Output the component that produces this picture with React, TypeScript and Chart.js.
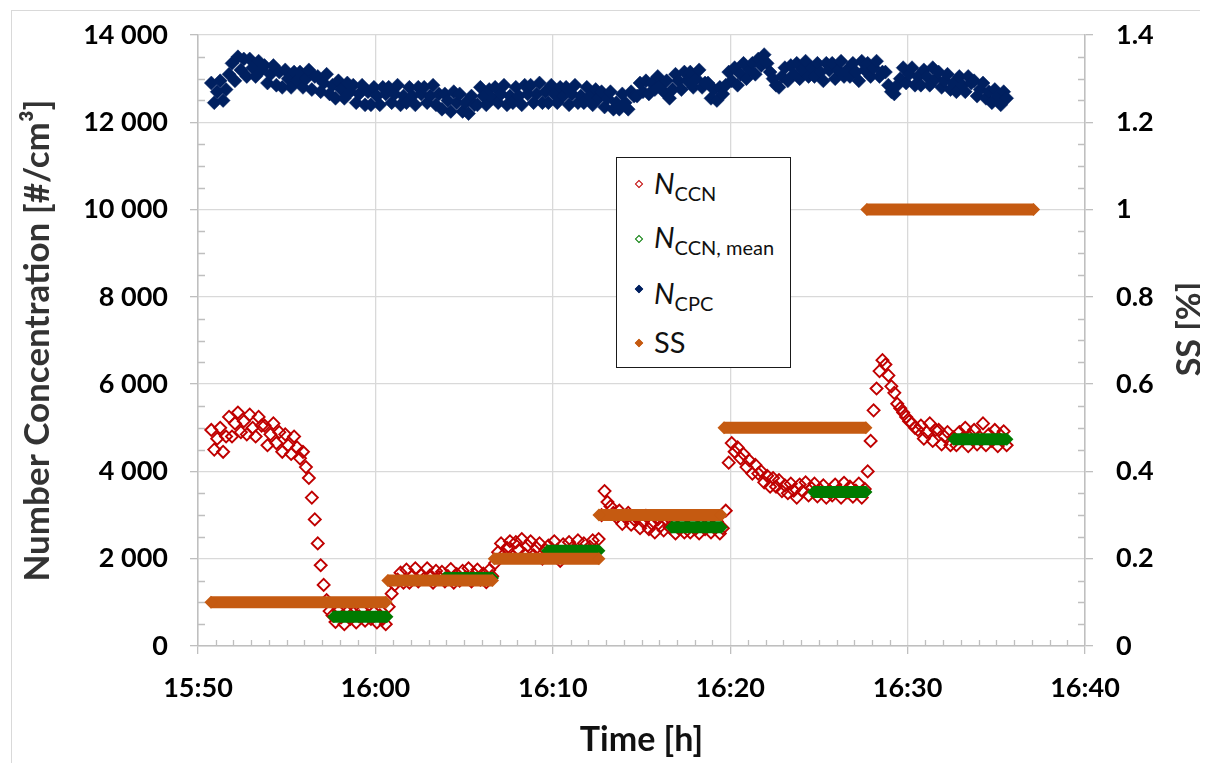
import React, { useEffect, useRef } from 'react';
import { Chart, registerables } from 'chart.js';

Chart.register(...registerables);

// time axis: minutes after 15:50, samples every 10 s starting 15:50:45
const T_START = 0.75;
const T_STEP = 1 / 6;

const nCCN = [
  4950, 4500, 4750, 5000, 4450, 4800,
  5250, 4800, 5100, 5350, 4900, 5150,
  4850, 5300, 5000, 4800, 5250, 5050,
  5050, 4600, 4850, 5100, 4650, 4900,
  4450, 4850, 4600, 4400, 4800, 4550,
  4300, 4450, 4100, 3850, 3400, 2900,
  2350, 1850, 1400, 1050, 800, 700,
  550, 800, 660, 500, 780, 620,
  760, 540, 680, 820, 580, 700,
  620, 780, 540, 700, 620, 500,
  900, 1200, 1400, 1520, 1680, 1450,
  1750, 1450, 1600, 1780, 1480, 1620,
  1550, 1780, 1620, 1450, 1720, 1580,
  1700, 1480, 1600, 1760, 1450, 1650,
  1500, 1720, 1580, 1780, 1480, 1640,
  1750, 1520, 1660, 1460, 1740, 1600,
  1900, 2150, 2350, 2100, 2250, 2400,
  2050, 2380, 2200, 2450, 2100, 2300,
  2400, 2080, 2250, 2350, 2000, 2200,
  2300, 2100, 2400, 2200, 1950, 2330,
  2150, 2380, 2250, 2050, 2420, 2200,
  2350, 2100, 2280, 2420, 2180, 2450,
  3000, 3550, 3300, 3200, 3050, 2950,
  3100, 2800, 2950, 3050, 2780, 2900,
  2950, 2700, 2850, 2980, 2680, 2800,
  2600, 2900, 2750, 2650, 2880, 2720,
  2850, 2580, 2700, 2820, 2600, 2750,
  2600, 2830, 2700, 2580, 2800, 2680,
  2820, 2600, 2720, 2850, 2580, 2700,
  3100, 4200, 4650, 4450, 4550, 4300,
  4400, 4100, 4250, 3950, 4150, 3950,
  4000, 3750, 3900, 3650, 3850, 3650,
  3800, 3550, 3680, 3500, 3720, 3560,
  3400, 3700, 3550, 3750, 3450, 3620,
  3720, 3430, 3580, 3680, 3400, 3560,
  3450, 3700, 3560, 3400, 3740, 3520,
  3650, 3420, 3560, 3720, 3400, 3600,
  4000, 4700, 5400, 5900, 6300, 6550,
  6450, 6200, 5950, 5800, 5550, 5450,
  5350, 5250, 5150, 5100, 5000, 4950,
  5050, 4750, 4900, 5100, 4700, 4950,
  4950, 4620, 4800, 4900, 4600, 4780,
  4600, 4900, 4750, 5000, 4580, 4820,
  4950, 4620, 4780, 5100, 4600, 4850,
  4700, 4950, 4580, 4820, 4920, 4600,
];

const nCPC = [
  12900, 12450, 12700, 12950, 12500, 12750,
  13100, 13350, 12950, 13500, 13200, 13450,
  13050, 13450, 13250, 13050, 13400, 13200,
  13300, 12900, 13100, 13300, 12850, 13150,
  12800, 13200, 13000, 12800, 13150, 12950,
  13150, 12800, 13000, 13200, 12750, 13050,
  13050, 12700, 12900, 13100, 12650, 12850,
  12550, 12950, 12750, 12550, 12900, 12700,
  12850, 12450, 12650, 12850, 12400, 12700,
  12400, 12800, 12600, 12400, 12800, 12650,
  12800, 12450, 12650, 12850, 12400, 12600,
  12450, 12800, 12600, 12400, 12800, 12650,
  12800, 12450, 12600, 12850, 12400, 12650,
  12300, 12650, 12500, 12250, 12700, 12450,
  12650, 12250, 12450, 12200, 12600, 12400,
  12400, 12800, 12600, 12400, 12750, 12550,
  12800, 12450, 12650, 12850, 12400, 12600,
  12450, 12800, 12600, 12400, 12850, 12650,
  12850, 12450, 12650, 12900, 12450, 12700,
  12450, 12850, 12650, 12450, 12800, 12600,
  12800, 12400, 12650, 12850, 12450, 12600,
  12450, 12800, 12600, 12400, 12750, 12550,
  12700, 12350, 12550, 12700, 12300, 12450,
  12300, 12650, 12450, 12300, 12700, 12600,
  12600, 12900, 12700, 12950, 12650, 12900,
  12750, 13050, 12850, 12700, 12950, 12550,
  12750, 13100, 12950, 12750, 13150, 12950,
  13150, 12800, 13000, 13200, 12800, 12900,
  12900, 12550, 12750, 12500, 12800, 12650,
  12850, 13150, 12950, 13250, 12850, 13100,
  13350, 13000, 13200, 13350, 13100, 13450,
  13300, 13550, 13350, 13150, 13000, 12850,
  12800, 13050, 13250, 12950, 13300, 13100,
  13350, 13000, 13200, 13400, 13050, 13250,
  13050, 13350, 13150, 12950, 13350, 13200,
  13350, 13000, 13200, 13400, 13050, 13200,
  13050, 13350, 13150, 12950, 13400, 13200,
  13350, 13050, 13250, 13400, 13050, 13150,
  13150, 12850, 12700, 12650, 12850, 13000,
  13250, 12900, 13100, 13250, 12850, 13050,
  12850, 13200, 13050, 12850, 13250, 13000,
  13150, 12800, 12950, 13100, 12750, 12900,
  12700, 13050, 12850, 12700, 13050, 12900,
  12950, 12600, 12750, 12900, 12550, 12700,
  12450, 12750, 12600, 12400, 12700, 12550,
];

// N_CCN mean plateaus (minutes after 15:50)
const meanStart = [7.65, 13.9, 19.7, 26.7, 34.7, 42.6];
const meanEnd = [10.65, 16.6, 22.6, 29.5, 37.65, 45.6];
const meanValue = [670, 1560, 2180, 2720, 3530, 4740];

// SS setpoints
const ssStart = [0.73, 10.7, 16.7, 22.6, 29.65, 37.7];
const ssEnd = [10.6, 16.6, 22.6, 29.5, 37.65, 47.1];
const ssValue = [0.1, 0.15, 0.2, 0.3, 0.5, 1.0];

const xTickLabels = ['15:50', '16:00', '16:10', '16:20', '16:30', '16:40'];

const RED = '#c00000';
const GREEN = '#007a00';
const NAVY = '#002060';
const ORANGE = '#c55a11';
const GRID = '#d9d9d9';
const AXIS = '#bfbfbf';
const FONT = 'Lato';

function series(values: number[]) {
  return values.map((v, i) => ({ x: T_START + i * T_STEP, y: v }));
}

function bands(starts: number[], ends: number[], vals: number[]) {
  const pts: { x: number; y: number | null }[] = [];
  starts.forEach((s, i) => {
    pts.push({ x: s, y: vals[i] });
    pts.push({ x: ends[i], y: vals[i] });
    pts.push({ x: ends[i] + 0.01, y: null });
  });
  return pts;
}

const fmtThousands = (v: number) => String(Math.round(v)).replace(/\B(?=(\d{3})+(?!\d))/g, ' ');

const framePlugin = {
  id: 'frame',
  beforeDraw(chart: any) {
    const { ctx } = chart;
    ctx.save();
    ctx.strokeStyle = GRID;
    ctx.lineWidth = 1;
    ctx.strokeRect(3.5, 2.5, 1400, 1000);
    ctx.restore();
  },
};

const minorTicksPlugin = {
  id: 'minorTicks',
  beforeDatasetsDraw(chart: any) {
    const { ctx, chartArea: a, scales } = chart;
    ctx.save();
    ctx.strokeStyle = AXIS;
    ctx.lineWidth = 1.3;
    ctx.beginPath();
    for (let v = 500; v < 14000; v += 500) {
      if (v % 2000 === 0) continue;
      const y = Math.round(scales.y.getPixelForValue(v)) + 0.5;
      ctx.moveTo(a.left, y);
      ctx.lineTo(a.left + 7, y);
    }
    for (let k = 1; k < 28; k++) {
      if (k % 4 === 0) continue;
      const y = Math.round(scales.y2.getPixelForValue(k * 0.05)) + 0.5;
      ctx.moveTo(a.right - 7, y);
      ctx.lineTo(a.right, y);
    }
    for (let m = 1; m < 50; m++) {
      if (m % 10 === 0) continue;
      const x = Math.round(scales.x.getPixelForValue(m)) + 0.5;
      ctx.moveTo(x, a.bottom);
      ctx.lineTo(x, a.bottom - 6);
    }
    ctx.stroke();
    ctx.restore();
  },
};

const rightTitlePlugin = {
  id: 'rightTitle',
  afterDraw(chart: any) {
    const { ctx } = chart;
    ctx.save();
    ctx.translate(1182, 321);
    ctx.rotate(-Math.PI / 2);
    ctx.font = `bold 34px ${FONT}`;
    ctx.fillStyle = '#333333';
    ctx.textAlign = 'center';
    ctx.textBaseline = 'middle';
    ctx.fillText('SS [%]', 0, 0);
    ctx.restore();
  },
};

const tickFont = { family: FONT, size: 27, weight: 'bold' as const };

const fixVertical = (width: number) => (s: any) => {
  s.width = width;
  s.paddingTop = 0;
  s.paddingBottom = 0;
};

function Marker({ color, filled }: { color: string; filled: boolean }) {
  return (
    <div
      style={{
        position: 'absolute',
        width: 6,
        height: 6,
        transform: 'rotate(45deg)',
        boxSizing: 'border-box',
        border: `1.5px solid ${color}`,
        background: filled ? color : '#fff',
      }}
    />
  );
}

function LegendItem({ top, markerTop, color, filled, children }: any) {
  return (
    <>
      <div style={{ position: 'absolute', left: 19, top: markerTop }}>
        <Marker color={color} filled={filled} />
      </div>
      <div
        style={{
          position: 'absolute',
          left: 37,
          top,
          whiteSpace: 'nowrap',
          fontFamily: FONT,
          color: '#111',
          lineHeight: '30px',
        }}
      >
        {children}
      </div>
    </>
  );
}

const subStyle: React.CSSProperties = { fontSize: 20, position: 'relative', top: 7 };
const nStyle: React.CSSProperties = { fontSize: 29, fontStyle: 'italic' };

export default function App() {
  const ref = useRef<HTMLCanvasElement>(null);

  useEffect(() => {
    const canvas = ref.current;
    if (!canvas) return;
    const chart = new Chart(canvas, {
      type: 'line',
      data: {
        datasets: [
          {
            label: 'N_CCN',
            data: series(nCCN),
            showLine: false,
            pointStyle: 'rectRot',
            pointRadius: 6,
            pointBorderWidth: 1.9,
            pointBorderColor: RED,
            pointBackgroundColor: 'rgba(0,0,0,0)',
            borderColor: RED,
            yAxisID: 'y',
            order: 4,
          },
          {
            label: 'N_CCN, mean',
            data: bands(meanStart, meanEnd, meanValue),
            borderColor: GREEN,
            borderWidth: 12,
            borderCapStyle: 'butt',
            pointStyle: 'rectRot',
            pointRadius: 6.5,
            pointBorderWidth: 0,
            pointBackgroundColor: GREEN,
            spanGaps: false,
            tension: 0,
            yAxisID: 'y',
            order: 3,
          },
          {
            label: 'N_CPC',
            data: series(nCPC),
            showLine: false,
            pointStyle: 'rectRot',
            pointRadius: 7,
            pointBorderWidth: 0.5,
            pointBorderColor: NAVY,
            pointBackgroundColor: NAVY,
            borderColor: NAVY,
            yAxisID: 'y',
            order: 2,
          },
          {
            label: 'SS',
            data: bands(ssStart, ssEnd, ssValue),
            borderColor: ORANGE,
            borderWidth: 12,
            borderCapStyle: 'butt',
            pointStyle: 'rectRot',
            pointRadius: 6.5,
            pointBorderWidth: 0,
            pointBackgroundColor: ORANGE,
            spanGaps: false,
            tension: 0,
            yAxisID: 'y2',
            order: 1,
          },
        ] as any,
      },
      options: {
        responsive: false,
        animation: false,
        events: [],
        layout: { padding: { top: 27, left: 0, right: 0, bottom: 0 } },
        plugins: { legend: { display: false }, tooltip: { enabled: false } },
        scales: {
          x: {
            type: 'linear',
            position: 'bottom',
            min: 0,
            max: 50,
            ticks: {
              stepSize: 10,
              autoSkip: false,
              maxRotation: 0,
              padding: 18,
              color: '#000',
              font: tickFont,
              callback: (_v: any, i: number) => xTickLabels[i],
            },
            grid: { color: GRID, lineWidth: 1.3, tickLength: 8, tickColor: AXIS, tickWidth: 1.3 },
            border: { color: AXIS, width: 1.5 },
            title: {
              display: true,
              text: 'Time [h]',
              color: '#111',
              font: { family: FONT, size: 34, weight: 'bold' },
              padding: { top: 0, bottom: 3 },
            },
            afterFit: (s: any) => {
              s.height = 117;
            },
          },
          y: {
            type: 'linear',
            position: 'left',
            min: 0,
            max: 14000,
            ticks: {
              stepSize: 2000,
              padding: 22,
              color: '#000',
              font: tickFont,
              callback: (v: any) => fmtThousands(Number(v)),
            },
            grid: { color: GRID, lineWidth: 1.3, tickLength: 8, tickColor: AXIS, tickWidth: 1.3 },
            border: { color: AXIS, width: 1.5 },
            title: {
              display: true,
              text: 'Number Concentration [#/cm\u00B3]',
              color: '#333',
              font: { family: FONT, size: 35, weight: 'bold' },
              padding: { top: 9, bottom: 0 },
            },
            afterFit: fixVertical(190),
          },
          y2: {
            type: 'linear',
            position: 'right',
            min: 0,
            max: 1.4,
            ticks: {
              stepSize: 0.2,
              padding: 23,
              color: '#000',
              font: tickFont,
              callback: (v: any) => String(Math.round(Number(v) * 10) / 10),
            },
            grid: { drawOnChartArea: false, tickLength: 8, color: AXIS, tickColor: AXIS, lineWidth: 1.3 },
            border: { color: AXIS, width: 1.5 },
            afterFit: fixVertical(123),
          },
        },
      } as any,
      plugins: [framePlugin, minorTicksPlugin, rightTitlePlugin],
    });
    return () => chart.destroy();
  }, []);

  return (
    <div style={{ position: 'relative', width: 1200, height: 755 }}>
      <canvas ref={ref} width={1200} height={755} style={{ display: 'block' }} />
      <div
        style={{
          position: 'absolute',
          left: 608,
          top: 149,
          width: 175,
          height: 211,
          boxSizing: 'border-box',
          border: '1.5px solid #1a1a1a',
          background: '#fff',
        }}
      >
        <LegendItem top={10} markerTop={23} color={RED} filled={false}>
          <span style={nStyle}>N</span>
          <span style={subStyle}>CCN</span>
        </LegendItem>
        <LegendItem top={64} markerTop={78} color={GREEN} filled={false}>
          <span style={nStyle}>N</span>
          <span style={subStyle}>CCN, mean</span>
        </LegendItem>
        <LegendItem top={120} markerTop={128} color={NAVY} filled={true}>
          <span style={nStyle}>N</span>
          <span style={subStyle}>CPC</span>
        </LegendItem>
        <LegendItem top={169} markerTop={182} color={ORANGE} filled={true}>
          <span style={{ fontSize: 29 }}>SS</span>
        </LegendItem>
      </div>
    </div>
  );
}
